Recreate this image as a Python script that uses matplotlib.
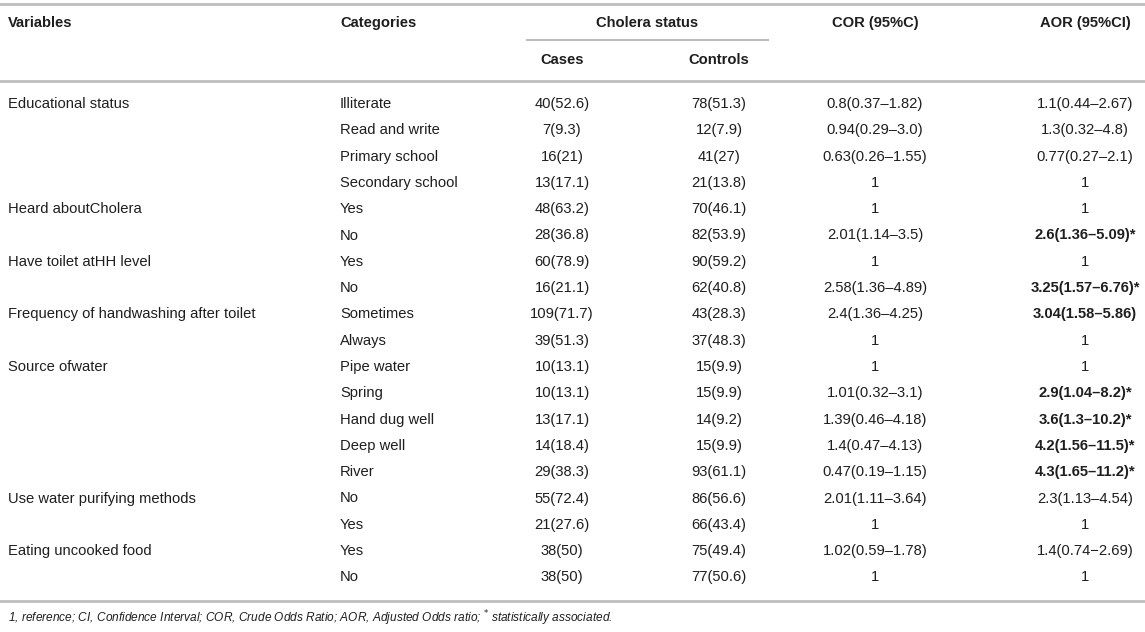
import matplotlib
matplotlib.use("Agg")
import matplotlib.pyplot as plt

plt.rcParams['font.family'] = ['Liberation Sans', 'DejaVu Sans']

variables = ["Educational status", "", "", "",
             "Heard aboutCholera", "",
             "Have toilet atHH level", "",
             "Frequency of handwashing after toilet", "",
             "Source ofwater", "", "", "", "",
             "Use water purifying methods", "",
             "Eating uncooked food", ""]
categories = ["Illiterate", "Read and write", "Primary school", "Secondary school",
              "Yes", "No", "Yes", "No", "Sometimes", "Always",
              "Pipe water", "Spring", "Hand dug well", "Deep well", "River",
              "No", "Yes", "Yes", "No"]
cases = ["40(52.6)", "7(9.3)", "16(21)", "13(17.1)", "48(63.2)", "28(36.8)",
         "60(78.9)", "16(21.1)", "109(71.7)", "39(51.3)", "10(13.1)", "10(13.1)",
         "13(17.1)", "14(18.4)", "29(38.3)", "55(72.4)", "21(27.6)", "38(50)", "38(50)"]
controls = ["78(51.3)", "12(7.9)", "41(27)", "21(13.8)", "70(46.1)", "82(53.9)",
            "90(59.2)", "62(40.8)", "43(28.3)", "37(48.3)", "15(9.9)", "15(9.9)",
            "14(9.2)", "15(9.9)", "93(61.1)", "86(56.6)", "66(43.4)", "75(49.4)", "77(50.6)"]
cor = ["0.8(0.37–1.82)", "0.94(0.29–3.0)", "0.63(0.26–1.55)", "1", "1", "2.01(1.14–3.5)",
       "1", "2.58(1.36–4.89)", "2.4(1.36–4.25)", "1", "1", "1.01(0.32–3.1)",
       "1.39(0.46–4.18)", "1.4(0.47–4.13)", "0.47(0.19–1.15)", "2.01(1.11–3.64)", "1",
       "1.02(0.59–1.78)", "1"]
aor = ["1.1(0.44–2.67)", "1.3(0.32–4.8)", "0.77(0.27–2.1)", "1", "1", "2.6(1.36–5.09)*",
       "1", "3.25(1.57–6.76)*", "3.04(1.58–5.86)", "1", "1", "2.9(1.04–8.2)*",
       "3.6(1.3–10.2)*", "4.2(1.56–11.5)*", "4.3(1.65–11.2)*", "2.3(1.13–4.54)", "1",
       "1.4(0.74−2.69)", "1"]
aor_bold = [False, False, False, False, False, True, False, True, True, False, False,
            True, True, True, True, False, False, False, False]

W, H = 1145, 632
fig = plt.figure(figsize=(W / 100, H / 100), dpi=100)
ax = fig.add_axes([0, 0, 1, 1])
ax.set_xlim(0, W)
ax.set_ylim(H, 0)
ax.axis("off")

fs = 10.6
txt = "#1e1e1e"
line_c = "#bdbdbd"

# header
ax.axhline(4, color=line_c, lw=2)
ax.text(8, 23, "Variables", fontsize=fs, weight="bold", va="center", color=txt)
ax.text(340, 23, "Categories", fontsize=fs, weight="bold", va="center", color=txt)
ax.text(647, 23, "Cholera status", fontsize=fs, weight="bold", va="center", ha="center", color=txt)
ax.plot([527, 768], [40, 40], color=line_c, lw=1.5)
ax.text(562, 60, "Cases", fontsize=fs, weight="bold", va="center", ha="center", color=txt)
ax.text(719, 60, "Controls", fontsize=fs, weight="bold", va="center", ha="center", color=txt)
ax.text(875, 23, "COR (95%C)", fontsize=fs, weight="bold", va="center", ha="center", color=txt)
ax.text(1085, 23, "AOR (95%CI)", fontsize=fs, weight="bold", va="center", ha="center", color=txt)
ax.axhline(81, color=line_c, lw=2)

# body
y0, dy = 104, 26.3
for i in range(len(categories)):
    y = y0 + i * dy
    ax.text(8, y, variables[i], fontsize=fs, va="center", color=txt)
    ax.text(340, y, categories[i], fontsize=fs, va="center", color=txt)
    ax.text(562, y, cases[i], fontsize=fs, va="center", ha="center", color=txt)
    ax.text(719, y, controls[i], fontsize=fs, va="center", ha="center", color=txt)
    ax.text(875, y, cor[i], fontsize=fs, va="center", ha="center", color=txt)
    ax.text(1085, y, aor[i], fontsize=fs, va="center", ha="center", color=txt,
            weight="bold" if aor_bold[i] else "normal")

ax.axhline(601, color=line_c, lw=2)
ax.text(8, 618, "1, reference; CI, Confidence Interval; COR, Crude Odds Ratio; "
        "AOR, Adjusted Odds ratio; $^{*}$ statistically associated.",
        fontsize=8.6, style="italic", va="center", color=txt)

fig.savefig("out.png", dpi=100)
